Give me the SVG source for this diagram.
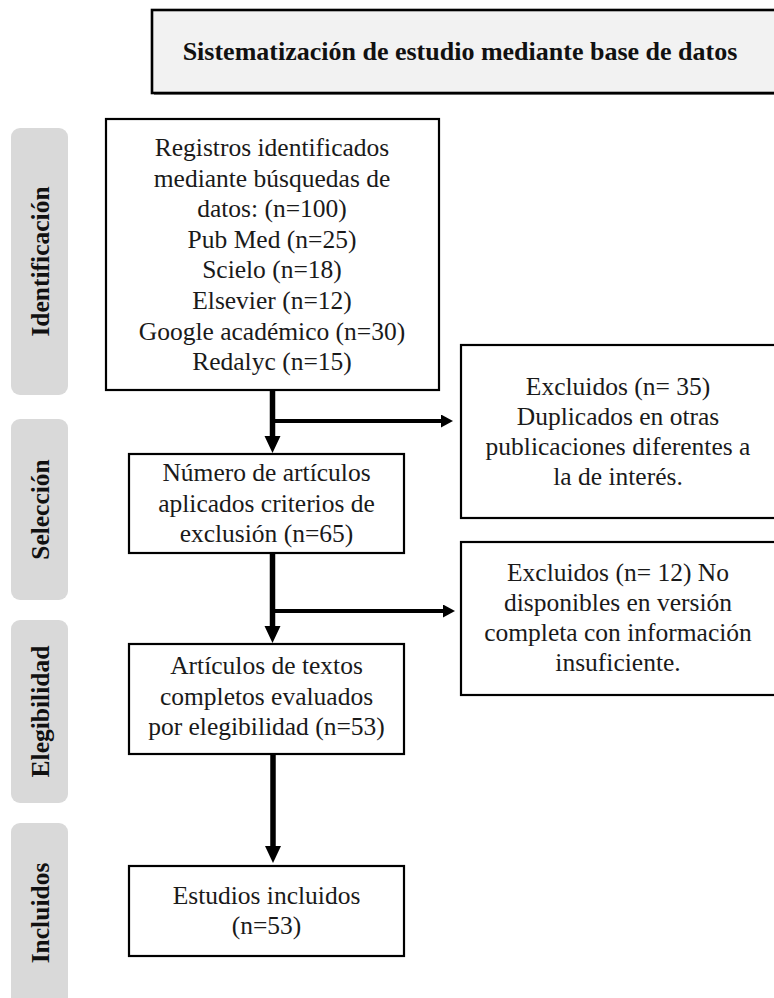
<svg xmlns="http://www.w3.org/2000/svg" width="774" height="998" viewBox="0 0 774 998">
<defs>
<style>
.bg{fill:#ffffff}
.pill{fill:#d9d9d9}
.box{fill:#ffffff;stroke:#000;stroke-width:2.2}
.title{fill:#f2f2f2;stroke:#000;stroke-width:2.6}
.t{font-family:"Liberation Serif","Times New Roman",serif;font-size:25.5px;fill:#1a1a1a;text-anchor:middle}
.tb{font-family:"Liberation Serif","Times New Roman",serif;font-weight:bold;fill:#111;text-anchor:middle}
.lab{font-size:25.5px}
.vline{stroke:#000;stroke-width:5.5;fill:none}
.hline{stroke:#000;stroke-width:4;fill:none}
</style>
<marker id="arrV" markerUnits="userSpaceOnUse" markerWidth="18" markerHeight="20" refX="0" refY="8" orient="auto">
<path d="M0,0 L17,8 L0,16 z" fill="#000"/>
</marker>
<marker id="arrH" markerUnits="userSpaceOnUse" markerWidth="14" markerHeight="14" refX="0" refY="6.5" orient="auto">
<path d="M0,0 L12,6.5 L0,13 z" fill="#000"/>
</marker>
</defs>
<rect class="bg" x="0" y="0" width="774" height="998"/>

<g id="title">
<rect x="154" y="12" width="626" height="83" fill="#8c8c8c"/>
<rect class="title" x="152" y="10" width="626" height="83"/>
<text class="tb" x="460" y="60" font-size="26px">Sistematización de estudio mediante base de datos</text>
</g>

<g id="phase-identificacion">
<rect class="pill" x="11" y="128" width="57" height="267" rx="9"/>
<text class="tb lab" transform="translate(49,261.5) rotate(-90)">Identificación</text>
</g>
<g id="phase-seleccion">
<rect class="pill" x="11" y="419" width="57" height="181" rx="9"/>
<text class="tb lab" transform="translate(49,509.5) rotate(-90)">Selección</text>
</g>
<g id="phase-elegibilidad">
<rect class="pill" x="11" y="620" width="57" height="183" rx="9"/>
<text class="tb lab" transform="translate(49,711.5) rotate(-90)">Elegibilidad</text>
</g>
<g id="phase-incluidos">
<rect class="pill" x="11" y="823" width="57" height="185" rx="9"/>
<text class="tb lab" transform="translate(49,913) rotate(-90)">Incluidos</text>
</g>

<g id="registros">
<rect class="box" x="106" y="119" width="333" height="271"/>
<text class="t" x="272" y="156">Registros identificados</text>
<text class="t" x="272" y="186.6">mediante búsquedas de</text>
<text class="t" x="272" y="217.2">datos: (n=100)</text>
<text class="t" x="272" y="247.8">Pub Med (n=25)</text>
<text class="t" x="272" y="278.4">Scielo (n=18)</text>
<text class="t" x="272" y="309">Elsevier (n=12)</text>
<text class="t" x="272" y="339.6">Google académico (n=30)</text>
<text class="t" x="272" y="370.2">Redalyc (n=15)</text>
</g>

<g id="excluidos-35">
<rect class="box" x="461" y="345" width="316" height="173"/>
<text class="t" x="618" y="395">Excluidos (n= 35)</text>
<text class="t" x="618" y="425">Duplicados en otras</text>
<text class="t" x="618" y="455">publicaciones diferentes a</text>
<text class="t" x="618" y="485">la de interés.</text>
</g>

<g id="seleccion">
<rect class="box" x="129" y="454" width="275" height="99"/>
<text class="t" x="266.5" y="481">Número de artículos</text>
<text class="t" x="266.5" y="511.5">aplicados criterios de</text>
<text class="t" x="266.5" y="542">exclusión (n=65)</text>
</g>

<g id="excluidos-12">
<rect class="box" x="461" y="542" width="316" height="153"/>
<text class="t" x="618" y="581">Excluidos (n= 12) No</text>
<text class="t" x="618" y="611">disponibles en versión</text>
<text class="t" x="618" y="641">completa con información</text>
<text class="t" x="618" y="671">insuficiente.</text>
</g>

<g id="elegibilidad">
<rect class="box" x="129" y="644" width="275" height="110"/>
<text class="t" x="266.5" y="674">Artículos de textos</text>
<text class="t" x="266.5" y="704.5">completos evaluados</text>
<text class="t" x="266.5" y="735">por elegibilidad (n=53)</text>
</g>

<g id="incluidos">
<rect class="box" x="129" y="866" width="275" height="90"/>
<text class="t" x="266.5" y="903.5">Estudios incluidos</text>
<text class="t" x="266.5" y="934">(n=53)</text>
</g>

<g id="connectors">
<line class="vline" x1="272.5" y1="390" x2="272.5" y2="436" marker-end="url(#arrV)"/>
<line class="hline" x1="272.5" y1="421" x2="441" y2="421" marker-end="url(#arrH)"/>
<line class="vline" x1="272.5" y1="553" x2="272.5" y2="626" marker-end="url(#arrV)"/>
<line class="hline" x1="272.5" y1="611" x2="443" y2="611" marker-end="url(#arrH)"/>
<line class="vline" x1="273" y1="754" x2="273" y2="846" marker-end="url(#arrV)"/>
</g>
</svg>
